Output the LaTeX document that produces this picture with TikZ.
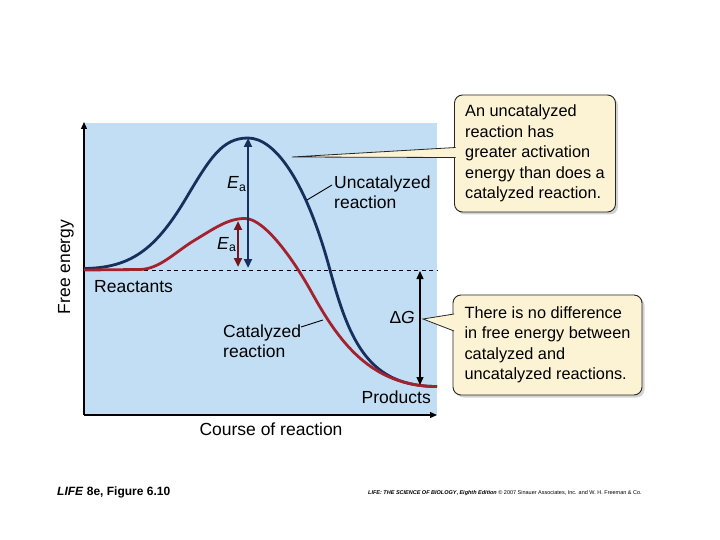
\documentclass[tikz,border=0pt]{standalone}
\usepackage{fontspec}
\setmainfont{Liberation Sans}
\usepackage{tikz}
\usepackage{xcolor}
\usetikzlibrary{arrows.meta,shadows}

\definecolor{plotbg}{RGB}{193,222,244}
\definecolor{uncatblue}{RGB}{24,46,92}
\definecolor{catred}{RGB}{163,34,46}
\definecolor{catdark}{RGB}{118,22,32}
\definecolor{notefill}{RGB}{252,242,212}

\tikzset{
	lbl/.style={font=\fontsize{17.5}{20}\selectfont, inner sep=0pt},
	notebox/.style={draw=black!85, fill=notefill, rounded corners=8pt, line width=0.9pt,
		align=left, inner sep=4pt, font=\fontsize{16.3}{20.5}\selectfont,
		drop shadow={opacity=0.35, shadow xshift=2.5pt, shadow yshift=-2.5pt}},
	notetip/.style={fill=notefill, draw=black!85, line width=0.8pt},
	eaarrow/.style={{Triangle[length=9pt,width=8pt]}-{Triangle[length=9pt,width=8pt]}, line width=2.4pt},
}

\begin{document}
\begin{tikzpicture}[x=1pt, y=-1pt]
	\useasboundingbox (0,0) rectangle (720,540);

	% plot area
	\fill[plotbg] (84,123) rectangle (437,415);
	\coordinate (origin) at (84,415);
	\coordinate (ytop) at (84,122);
	\coordinate (xend) at (437,415);
	\draw[-{Triangle[length=7pt,width=6pt]}, line width=1.2pt] (origin) -- (ytop);
	\draw[-{Triangle[length=7pt,width=6pt]}, line width=1.2pt] (origin) -- (xend);
	\draw[dashed, dash pattern=on 4pt off 3.5pt, line width=0.8pt] (84,270) -- (437,270);

	% uncatalyzed
	\draw[uncatblue, line width=2.8pt] (84,268.5) .. controls (130,268) and (155,250) .. (185,200)
		.. controls (210,158) and (222,138) .. (248,138)
		.. controls (275,138) and (306,181) .. (330,270)
		.. controls (350,344) and (370,386.5) .. (437,386.5);
	% catalyzed
	\draw[catred, line width=2.8pt] (84,270) -- (140,269.5)
		.. controls (160,269) and (175,252) .. (195,240)
		.. controls (215,228) and (228,218.5) .. (245,218.5)
		.. controls (265,218.5) and (295,262) .. (312,293)
		.. controls (338,340) and (370,386.5) .. (437,386.5);

	% activation energies
	\coordinate (peakun) at (248,138);
	\coordinate (baseun) at (248,268);
	\coordinate (peakcat) at (238,221);
	\coordinate (basecat) at (238,267);
	\draw[eaarrow, uncatblue] (baseun) -- (peakun);
	\draw[eaarrow, catdark] (basecat) -- (peakcat);
	\node[lbl, anchor=base west] (eaun) at (227,189) {\textit{E}\textsubscript{a}};
	\node[lbl, anchor=base west] (eacat) at (217,249) {\textit{E}\textsubscript{a}};

	% free energy change
	\coordinate (dgtop) at (420,271);
	\coordinate (dgbot) at (420,385);
	\draw[{Triangle[length=8pt,width=7pt]}-{Triangle[length=8pt,width=7pt]}, line width=1.2pt] (dgtop) -- (dgbot);
	\node[lbl, anchor=base east] (dg) at (415,323) {Δ\textit{G}};

	% labels
	\node[lbl, anchor=base west] (reactants) at (94,292) {Reactants};
	\node[lbl, anchor=base east] (products) at (431,403) {Products};
	\node[lbl, anchor=base west, align=left] (uncatlbl) at (334,208) {Uncatalyzed\\reaction};
	\node[lbl, anchor=base west, align=left] (catlbl) at (223,357) {Catalyzed\\reaction};
	\node[lbl, anchor=base] (xlbl) at (271,435) {Course of reaction};
	\node[lbl, anchor=base, rotate=90] (ylbl) at (70,267) {Free energy};

	\coordinate (onblue) at (307,200);
	\coordinate (uncatend) at (332,185);
	\coordinate (onred) at (323,320);
	\coordinate (catend) at (301,327);
	\draw[line width=0.9pt] (onblue) -- (uncatend);
	\draw[line width=0.9pt] (onred) -- (catend);

	% notes
	\node[notebox, minimum width=161pt, minimum height=117pt] (note1) at (535,153.5)
		{An uncatalyzed\\reaction has\\greater activation\\energy than does a\\catalyzed reaction.};
	\coordinate (tip1) at (292,157);
	\path[notetip] ([shift={(1.5,-6)}]note1.west) -- (tip1) -- ([shift={(1.5,4)}]note1.west);

	\node[notebox, minimum width=189pt, minimum height=100pt] (note2) at (547.5,345)
		{There is no difference\\in free energy between\\catalyzed and\\uncatalyzed reactions.};
	\coordinate (tip2) at (423,319);
	\path[notetip] ([shift={(1.5,-31)}]note2.west) -- (tip2) -- ([shift={(1.5,-14)}]note2.west);

	% footer
	\node[anchor=base west, inner sep=0pt, font=\fontsize{12}{14}\selectfont\bfseries] (figref) at (57,495)
		{\textit{LIFE} 8e, Figure 6.10};
	\node[anchor=base west, inner sep=0pt, font=\fontsize{5.5}{6}\selectfont] (credit) at (368,494)
		{\textbf{\textit{LIFE: THE SCIENCE OF BIOLOGY}, \textit{Eighth Edition}} © 2007 Sinauer Associates, Inc. and W. H. Freeman \& Co.};
\end{tikzpicture}
\end{document}
